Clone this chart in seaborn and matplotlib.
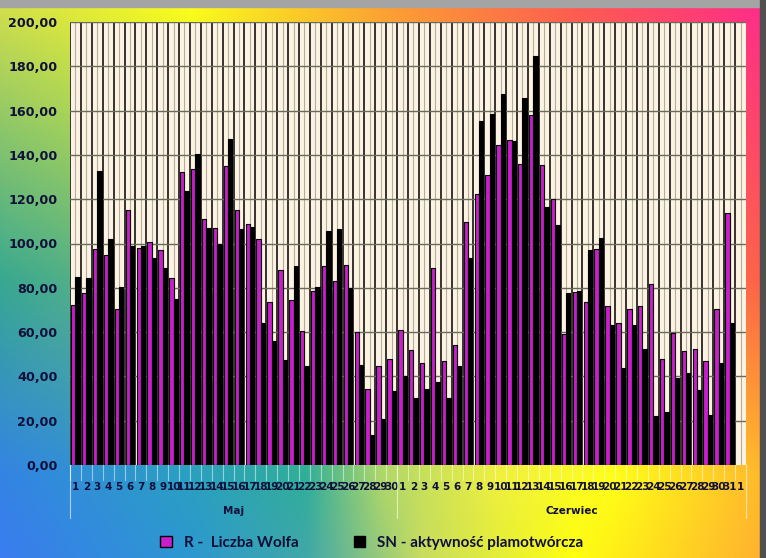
import numpy as np
import pandas as pd
import matplotlib
matplotlib.use("Agg")
import matplotlib.pyplot as plt
import seaborn as sns
from matplotlib.colors import to_rgb
from matplotlib.patches import Patch, Rectangle
from matplotlib.transforms import blended_transform_factory

# dane
dni_maj = [str(d) for d in range(1, 31)]
dni_czerwiec = [str(d) for d in range(1, 32)] + ["1"]
miesiace = ["Maj", "Czerwiec"]

liczba_wolfa = [72.2, 77.5, 97.5, 94.8, 70.4, 115.1, 97.8, 100.5, 97.1, 84.3,
                132.1, 133.5, 110.9, 106.9, 135.0, 115.1, 108.8, 101.9, 73.5, 87.9,
                74.4, 60.5, 78.4, 89.8, 83.1, 90.3, 59.9, 34.2, 44.7, 47.9,
                60.9, 51.9, 45.9, 88.8, 47.0, 54.2, 109.6, 122.3, 130.9, 144.5,
                146.6, 135.9, 157.9, 135.4, 120.1, 59.1, 78.1, 73.6, 97.5, 71.8,
                64.0, 70.4, 71.8, 81.7, 47.9, 59.4, 51.5, 52.4, 46.8, 70.4,
                113.6]
aktywnosc_sn = [85.0, 84.3, 132.7, 102.0, 80.2, 99.0, 98.9, 93.6, 88.9, 74.9,
                123.7, 140.4, 106.9, 99.8, 147.2, 106.4, 107.6, 64.0, 56.0, 47.4,
                89.8, 44.7, 80.2, 105.6, 106.5, 80.0, 45.1, 13.5, 20.8, 33.4,
                40.3, 30.4, 34.2, 37.5, 30.4, 44.7, 93.5, 155.3, 158.5, 167.5,
                146.3, 165.7, 184.7, 116.3, 108.4, 77.7, 78.6, 97.1, 102.5, 63.2,
                43.9, 63.2, 52.4, 22.1, 23.9, 39.3, 41.4, 33.9, 22.6, 45.9,
                64.0]

seria_r = "R -  Liczba Wolfa"
seria_sn = "SN - aktywność plamotwórcza"
kolory = {seria_r: "#c81ecc", seria_sn: "#000000"}
granatowy = "#10103a"

n = len(liczba_wolfa)
df = pd.DataFrame({
    "poz": list(range(n)) * 2,
    "wartosc": liczba_wolfa + aktywnosc_sn,
    "seria": [seria_r] * n + [seria_sn] * n,
})


def gradient_row(xs, cols, width):
    arr = np.array([to_rgb(c) for c in cols])
    x = np.linspace(0, 1, width)
    return np.stack([np.interp(x, xs, arr[:, i]) for i in range(3)], axis=-1)


def background(width, height):
    rows_y = [0.0, 0.5, 0.85, 1.0]
    rows = np.stack([
        gradient_row([0, 0.25, 0.5, 0.75, 1.0],
                     ["#d4e04a", "#ffff18", "#ffa030", "#ff5a50", "#ff2a8c"], width),
        gradient_row([0, 0.5, 1.0], ["#38a890", "#c0d060", "#ff6048"], width),
        gradient_row([0, 0.25, 0.4, 0.5, 0.65, 0.8, 1.0],
                     ["#3484e4", "#2aa0c0", "#30ae98", "#b0d868", "#f0f040",
                      "#ffff18", "#ffb82c"], width),
        gradient_row([0, 0.25, 0.4, 0.55, 0.75, 1.0],
                     ["#3a7cf0", "#2c98d0", "#40a8a8", "#c8dc60", "#ffff10",
                      "#ffb030"], width),
    ])
    yy = np.linspace(0, 1, height)
    idx = np.clip(np.searchsorted(rows_y, yy, side="right") - 1, 0, len(rows_y) - 2)
    ry = np.array(rows_y)
    t = (yy - ry[idx]) / (ry[idx + 1] - ry[idx])
    return rows[idx] * (1 - t)[:, None, None] + rows[idx + 1] * t[:, None, None]


W, H = 766, 558
fig = plt.figure(figsize=(W / 100, H / 100), dpi=100)

bg = fig.add_axes([0, 0, 1, 1])
bg.imshow(background(W, H), aspect="auto", extent=[0, 1, 0, 1])
bg.axis("off")
fig.patches.append(Rectangle((0, 1 - 7 / H), 1, 7 / H, transform=fig.transFigure,
                             color="#a4a4a4", zorder=5))
fig.patches.append(Rectangle((1 - 6 / W, 0), 6 / W, 1, transform=fig.transFigure,
                             color="#505050", zorder=5))

ax = fig.add_axes([70 / W, 93 / H, 676 / W, 443 / H])
ax.set_zorder(1)
ax.set_facecolor("#fdf3e2")

sns.barplot(data=df, x="poz", y="wartosc", hue="seria",
            hue_order=[seria_r, seria_sn], palette=kolory, saturation=1,
            width=0.8, gap=0, edgecolor="black", linewidth=0.8,
            legend=False, ax=ax, zorder=3)

ax.set_xlim(-0.5, 61.5)
ax.set_ylim(0, 200)

# siatka
for k in range(62):
    ax.axvline(k - 0.5, color="black", lw=1.1, zorder=1)
    ax.axvline(k, color="#b4aca0", lw=0.8, zorder=1)
for v in range(20, 201, 20):
    ax.axhline(v, color="#6c6a5c", lw=1.0, zorder=2)

for s in ax.spines.values():
    s.set_visible(False)

ax.set_yticks(range(0, 201, 20))
ax.set_yticklabels([f"{v},00" for v in range(0, 201, 20)])
ax.set_xticks(range(62))
ax.set_xticklabels(dni_maj + dni_czerwiec)
ax.tick_params(axis="y", length=0, pad=9, labelsize=9.2, labelcolor=granatowy)
ax.tick_params(axis="x", length=0, pad=12, labelsize=7.5, labelcolor=granatowy)
for lab in ax.get_xticklabels() + ax.get_yticklabels():
    lab.set_fontweight("bold")
ax.set_xlabel("")
ax.set_ylabel("")

# linie pod osią kategorii
tr = blended_transform_factory(ax.transData, ax.transAxes)
for k in range(62):
    ax.plot([k - 0.5, k - 0.5], [0, -15 / 443], transform=tr, color="white",
            alpha=0.5, lw=0.8, clip_on=False)
for xg in [-0.5, 29.5, 61.5]:
    ax.plot([xg, xg], [0, -53 / 443], transform=tr, color="white",
            alpha=0.6, lw=0.8, clip_on=False)
ax.text(14.5, -46 / 443, miesiace[0], transform=tr, ha="center", va="center",
        fontsize=7.5, fontweight="bold", color=granatowy)
ax.text(45.5, -46 / 443, miesiace[1], transform=tr, ha="center", va="center",
        fontsize=7.5, fontweight="bold", color=granatowy)

uchwyty = [Patch(facecolor=kolory[s], edgecolor="black", label=s)
           for s in [seria_r, seria_sn]]
fig.legend(handles=uchwyty, loc="center", bbox_to_anchor=(372 / W, 1 - 543 / H),
           ncol=2, frameon=False, handlelength=0.75, handleheight=0.75,
           columnspacing=3.6, handletextpad=0.8, labelcolor=granatowy,
           prop={"family": "Lato", "weight": "bold", "size": 11})

fig.savefig("out.png", dpi=100)
